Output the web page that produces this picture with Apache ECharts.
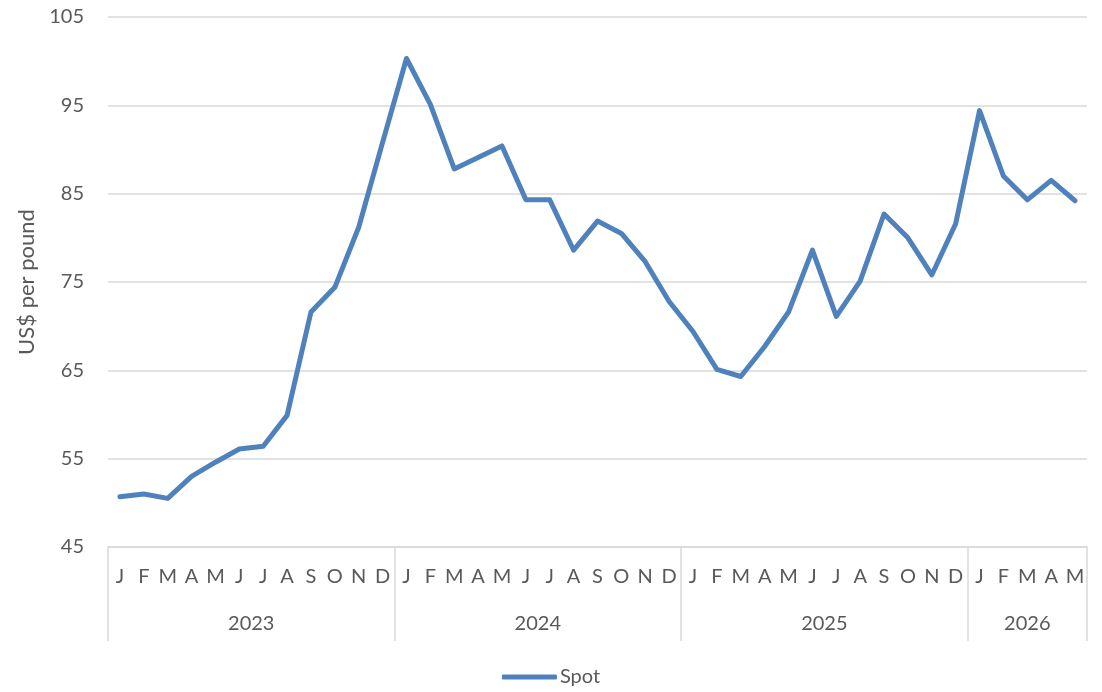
<!DOCTYPE html>
<html>
<head>
<meta charset="utf-8">
<script src="https://cdn.jsdelivr.net/npm/echarts@6/dist/echarts.min.js"></script>
<style>
  html, body { margin: 0; padding: 0; background: #ffffff; }
  #chart { width: 1102px; height: 692px; }
</style>
</head>
<body>
<div id="chart"></div>
<script>
// Monthly spot price, US$ per pound
const monthLetters = ['J','F','M','A','M','J','J','A','S','O','N','D'];
const years = ['2023', '2024', '2025', '2026'];
const monthsPerYear = [12, 12, 12, 5];

const spot2023 = [50.7, 51.0, 50.5, 53.0, 54.6, 56.1, 56.4, 59.9, 71.6, 74.4, 81.2, 90.8];
const spot2024 = [100.3, 95.1, 87.8, 89.1, 90.4, 84.3, 84.3, 78.6, 81.9, 80.5, 77.3, 72.8];
const spot2025 = [69.4, 65.1, 64.3, 67.7, 71.6, 78.6, 71.1, 75.1, 82.7, 80.0, 75.8, 81.6];
const spot2026 = [94.4, 87.0, 84.3, 86.5, 84.2];

const yTicks = [45, 55, 65, 75, 85, 95, 105];

// Build month categories and year group boundaries
const categories = [];
const boundaries = [0];
const centers = [];
let count = 0;
monthsPerYear.forEach((n, yi) => {
  for (let m = 0; m < n; m++) categories.push(monthLetters[m] + '-' + years[yi]);
  centers.push(count + n / 2);
  count += n;
  boundaries.push(count);
});
const spot = [].concat(spot2023, spot2024, spot2025, spot2026);

const textColor = '#595959';
const gridColor = '#d9d9d9';
const fontFamily = 'Lato, "Open Sans", sans-serif';

const chart = echarts.init(document.getElementById('chart'), null, { renderer: 'canvas' });
chart.setOption({
  animation: false,
  backgroundColor: '#ffffff',
  textStyle: { fontFamily: fontFamily },
  grid: { left: 108, right: 15, top: 17, bottom: 145, containLabel: false },
  legend: {
    bottom: 0,
    left: 'center',
    data: ['Spot'],
    icon: 'roundRect',
    itemWidth: 55,
    itemHeight: 5,
    itemGap: 10,
    textStyle: { color: textColor, fontSize: 20, fontFamily: fontFamily, padding: [0, 0, 0, -2] }
  },
  xAxis: [
    {
      type: 'category',
      data: categories,
      boundaryGap: true,
      axisLine: { show: true, lineStyle: { color: gridColor, width: 1.5 } },
      axisTick: { show: false },
      axisLabel: {
        interval: 0,
        margin: 20,
        color: textColor,
        fontSize: 20,
        fontFamily: fontFamily,
        formatter: v => v.split('-')[0]
      },
      splitLine: { show: false }
    },
    {
      type: 'value',
      position: 'bottom',
      min: 0,
      max: count,
      axisLine: { show: false },
      splitLine: { show: false },
      axisTick: {
        show: true,
        customValues: boundaries,
        length: 94,
        lineStyle: { color: gridColor, width: 1.5 }
      },
      axisLabel: {
        show: true,
        customValues: centers,
        margin: 67,
        color: textColor,
        fontSize: 20,
        fontFamily: fontFamily,
        formatter: v => {
          const i = centers.indexOf(v);
          return i >= 0 ? years[i] : '';
        }
      }
    }
  ],
  yAxis: {
    type: 'value',
    min: 45,
    max: 105,
    interval: 10,
    name: 'US$ per pound',
    nameLocation: 'middle',
    nameGap: 70,
    nameRotate: 90,
    nameTextStyle: { color: textColor, fontSize: 22, fontFamily: fontFamily },
    axisLine: { show: false },
    axisTick: { show: false },
    axisLabel: {
      margin: 24,
      color: textColor,
      fontSize: 20,
      fontFamily: fontFamily,
      formatter: v => (yTicks.indexOf(v) >= 0 ? String(v) : '')
    },
    splitLine: { show: true, lineStyle: { color: gridColor, width: 1.5 } }
  },
  series: [
    {
      name: 'Spot',
      type: 'line',
      xAxisIndex: 0,
      data: spot,
      symbol: 'none',
      lineStyle: { color: '#4f81bd', width: 5, join: 'round', cap: 'round' },
      itemStyle: { color: '#4f81bd' }
    }
  ]
});
</script>
</body>
</html>
